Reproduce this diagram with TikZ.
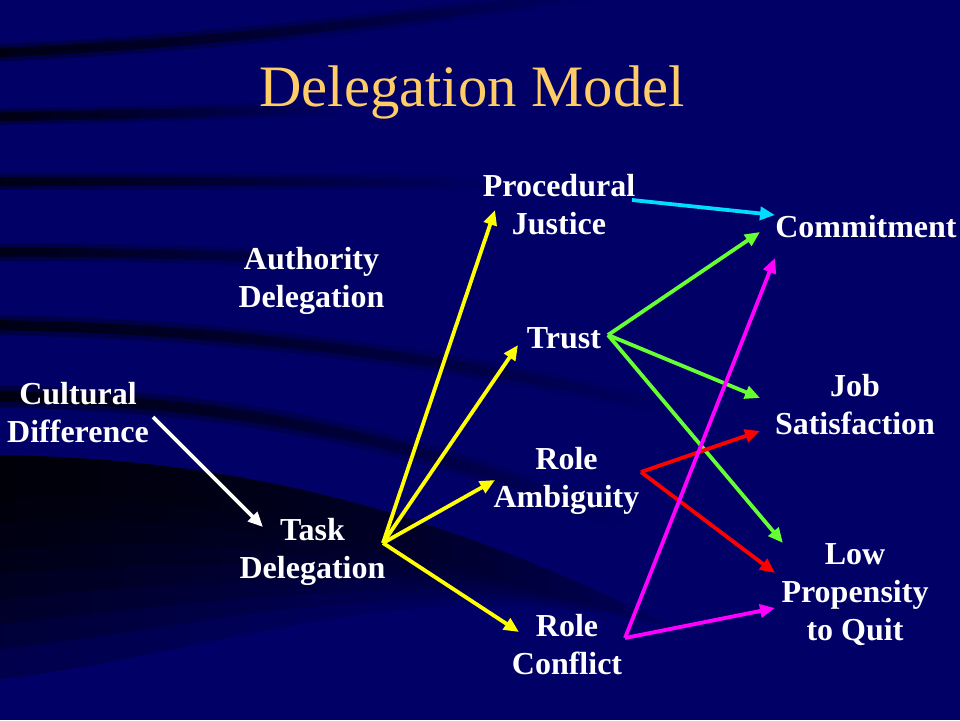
\documentclass[tikz,border=0pt]{standalone}
\usepackage{fontspec}
\setmainfont{Liberation Serif}
\usetikzlibrary{arrows.meta,calc,fadings}
\definecolor{navy}{RGB}{0,0,102}
\definecolor{titlecol}{RGB}{255,204,102}
\definecolor{ycol}{RGB}{255,255,0}
\definecolor{ccol}{RGB}{0,221,255}
\definecolor{gcol}{RGB}{102,255,51}
\definecolor{rcol}{RGB}{255,0,0}
\definecolor{mcol}{RGB}{255,0,255}
\tikzfading[name=fadeR, left color=transparent!0, right color=transparent!100]
\tikzfading[name=fadeRlong, left color=transparent!0, middle color=transparent!25, right color=transparent!100]
\tikzfading[name=fadeRdark, left color=transparent!0, middle color=transparent!10, right color=transparent!100]
\tikzset{
  lbl/.style={text=white, font=\bfseries\fontsize{32}{38}\selectfont, align=center, inner sep=0pt},
  ttl/.style={text=titlecol, font=\fontsize{58.7}{70}\selectfont, inner sep=0pt, anchor=base},
  arr/.style={line width=3.8pt, -{Triangle[length=15pt,width=13pt]}},
  streak/.style={line width=#1, black, line cap=round},
}
\begin{document}
\begin{tikzpicture}[x=1pt,y=-1pt]
\useasboundingbox (0,0) rectangle (960,720);
\fill[navy] (0,0) rectangle (960,720);
% background streaks
\begin{scope}
\clip (0,0) rectangle (960,720);
\draw[streak=18pt, opacity=0.35, path fading=fadeRlong] (-10,53) .. controls (200,45) and (400,20) .. (600,-8);
\draw[streak=9pt, opacity=0.7, path fading=fadeRlong] (-10,53) .. controls (200,45) and (400,20) .. (600,-8);
\draw[streak=16pt, opacity=0.35, path fading=fadeR] (-10,117) .. controls (100,115) and (200,113) .. (340,108);
\draw[streak=9pt, opacity=0.7, path fading=fadeR] (-10,117) .. controls (100,115) and (200,113) .. (340,108);
\draw[streak=16pt, opacity=0.35, path fading=fadeR] (-10,182) .. controls (150,181) and (300,181) .. (480,183);
\draw[streak=9pt, opacity=0.7, path fading=fadeR] (-10,182) .. controls (150,181) and (300,181) .. (480,183);
\draw[streak=18pt, opacity=0.35, path fading=fadeR] (-10,252) .. controls (120,252) and (250,256) .. (380,262);
\draw[streak=9pt, opacity=0.7, path fading=fadeR] (-10,252) .. controls (120,252) and (250,256) .. (380,262);
\draw[streak=20pt, opacity=0.35, path fading=fadeR] (-10,325) .. controls (200,328) and (420,350) .. (680,410);
\draw[streak=10pt, opacity=0.7, path fading=fadeR] (-10,325) .. controls (200,328) and (420,350) .. (680,410);
\draw[streak=22pt, opacity=0.4, path fading=fadeR] (-10,396) .. controls (200,400) and (380,425) .. (620,520);
\draw[streak=11pt, opacity=0.75, path fading=fadeR] (-10,396) .. controls (200,400) and (380,425) .. (620,520);
\foreach \d in {500,525,550,575,600,625,650,680} {
  \fill[black, opacity=0.25, path fading=fadeRdark] (-10,455) .. controls (220,458) and (420,500) .. (680,630)
     .. controls (420,560) and (200,\d-20) .. (-10,\d) -- cycle;
}
\end{scope}
% title
\node[ttl] (title) at (472,106) {Delegation Model};
% labels
\node[lbl] (cult)   at (78,413)    {Cultural\\Difference};
\node[lbl] (auth)   at (311.5,280.5) {Authority\\Delegation};
\node[lbl] (task)   at (312.5,552) {Task\\Delegation};
\node[lbl] (pj)     at (559,205)   {Procedural\\Justice};
\node[lbl] (trust)  at (564,338.5) {Trust};
\node[lbl] (ra)     at (566.5,481) {Role\\Ambiguity};
\node[lbl] (rc)     at (567,644.5) {Role\\Conflict};
\node[lbl] (commit) at (866,227)   {Commitment};
\node[lbl] (job)    at (855,405)   {Job\\Satisfaction};
\node[lbl] (low)    at (855,595)   {Low\\Propensity\\to Quit};
% connectors
\draw[arr, white] ($(cult)+(75,4)$) -- ($(task)+(-49.5,-25)$);
\draw[arr, ycol] ($(task)+(70.5,-9)$) -- ($(pj)+(-64,5)$);
\draw[arr, ycol] ($(task)+(70.5,-9)$) -- ($(trust)+(-46,6.5)$);
\draw[arr, ycol] ($(task)+(70.5,-9)$) -- ($(ra)+(-71.5,-1)$);
\draw[arr, ycol] ($(task)+(70.5,-9)$) -- ($(rc)+(-48,-12.5)$);
\draw[arr, ccol] ($(pj)+(73,-5)$) -- ($(commit)+(-91,-12)$);
\draw[arr, gcol] ($(trust)+(44,-3.5)$) -- ($(commit)+(-106,5)$);
\draw[arr, gcol] ($(trust)+(44,-3.5)$) -- ($(job)+(-95,-7)$);
\draw[arr, gcol] ($(trust)+(44,-3.5)$) -- ($(low)+(-72,-52)$);
\draw[arr, rcol] ($(ra)+(74.5,-9)$) -- ($(job)+(-95,26)$);
\draw[arr, rcol] ($(ra)+(74.5,-9)$) -- ($(low)+(-80,-22)$);
\draw[arr, mcol] ($(rc)+(58,-6.5)$) -- ($(commit)+(-91,31)$);
\draw[arr, mcol] ($(rc)+(58,-6.5)$) -- ($(low)+(-80,13)$);
\end{tikzpicture}
\end{document}
